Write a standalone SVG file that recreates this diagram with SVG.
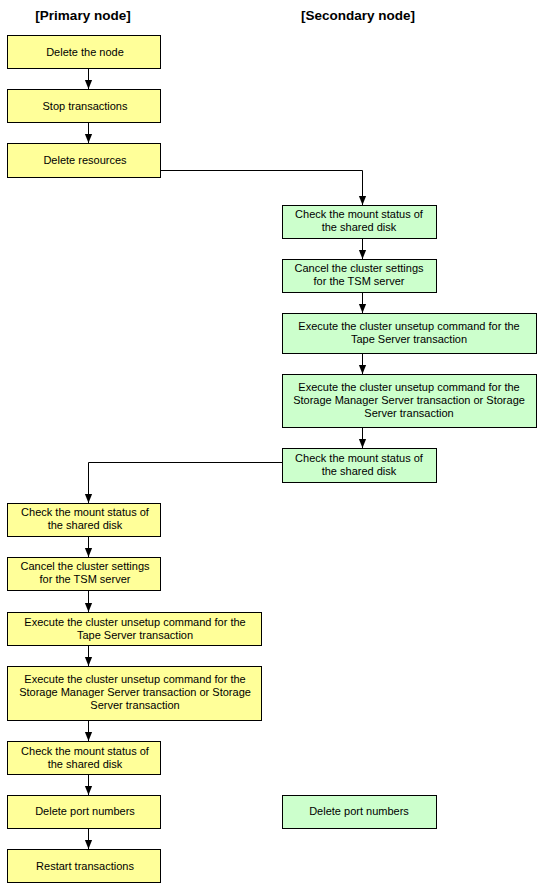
<svg xmlns="http://www.w3.org/2000/svg" width="545" height="891" viewBox="0 0 545 891">
<defs>
<style>
.y{fill:#ffff99;stroke:#000;stroke-width:1}
.g{fill:#ccffcc;stroke:#000;stroke-width:1}
text{font-family:"Liberation Sans",Arial,sans-serif;font-size:11px;fill:#000;text-anchor:middle}
.h{font-size:13.5px;font-weight:bold}
.c{fill:none;stroke:#000;stroke-width:1}
</style>
<marker id="a" viewBox="0 0 10 10" refX="10" refY="5" markerWidth="9" markerHeight="9" markerUnits="userSpaceOnUse" orient="auto">
<path d="M0,1 L10,5 L0,9 Z" fill="#000"/>
</marker>
</defs>
<rect width="545" height="891" fill="#fff"/>
<text class="h" x="83" y="20">[Primary node]</text>
<text class="h" x="358" y="20">[Secondary node]</text>

<g id="connectors">
<path class="c" d="M88.5,68 V89" marker-end="url(#a)"/>
<path class="c" d="M88.5,122 V143" marker-end="url(#a)"/>
<path class="c" d="M160,170.5 H362.5 V205" marker-end="url(#a)"/>
<path class="c" d="M362.5,238 V259" marker-end="url(#a)"/>
<path class="c" d="M362.5,292 V313" marker-end="url(#a)"/>
<path class="c" d="M362.5,353 V374" marker-end="url(#a)"/>
<path class="c" d="M362.5,427 V448" marker-end="url(#a)"/>
<path class="c" d="M282,462.5 H88.5 V503" marker-end="url(#a)"/>
<path class="c" d="M88.5,536 V557" marker-end="url(#a)"/>
<path class="c" d="M88.5,590 V612" marker-end="url(#a)"/>
<path class="c" d="M88.5,645 V666" marker-end="url(#a)"/>
<path class="c" d="M88.5,720 V741" marker-end="url(#a)"/>
<path class="c" d="M88.5,774 V795" marker-end="url(#a)"/>
<path class="c" d="M88.5,828 V849" marker-end="url(#a)"/>
</g>

<g id="p1"><rect class="y" x="7.5" y="35.5" width="153" height="33"/><text x="85" y="56">Delete the node</text></g>
<g id="p2"><rect class="y" x="7.5" y="89.5" width="153" height="33"/><text x="85" y="110">Stop transactions</text></g>
<g id="p3"><rect class="y" x="7.5" y="143.5" width="153" height="34"/><text x="85" y="164">Delete resources</text></g>

<g id="s1"><rect class="g" x="282.5" y="205.5" width="154" height="33"/><text x="359" y="218">Check the mount status of</text><text x="359" y="231">the shared disk</text></g>
<g id="s2"><rect class="g" x="282.5" y="259.5" width="154" height="33"/><text x="359" y="272">Cancel the cluster settings</text><text x="359" y="285">for the TSM server</text></g>
<g id="s3"><rect class="g" x="282.5" y="313.5" width="254" height="40"/><text x="409" y="330">Execute the cluster unsetup command for the</text><text x="409" y="343">Tape Server transaction</text></g>
<g id="s4"><rect class="g" x="282.5" y="374.5" width="254" height="53"/><text x="409" y="391">Execute the cluster unsetup command for the</text><text x="409" y="404">Storage Manager Server transaction or Storage</text><text x="409" y="417">Server transaction</text></g>
<g id="s5"><rect class="g" x="282.5" y="448.5" width="154" height="34"/><text x="359" y="462">Check the mount status of</text><text x="359" y="475">the shared disk</text></g>

<g id="p4"><rect class="y" x="7.5" y="503.5" width="153" height="33"/><text x="85" y="516">Check the mount status of</text><text x="85" y="529">the shared disk</text></g>
<g id="p5"><rect class="y" x="7.5" y="557.5" width="153" height="33"/><text x="85" y="570">Cancel the cluster settings</text><text x="85" y="583">for the TSM server</text></g>
<g id="p6"><rect class="y" x="7.5" y="612.5" width="254" height="33"/><text x="135" y="626">Execute the cluster unsetup command for the</text><text x="135" y="639">Tape Server transaction</text></g>
<g id="p7"><rect class="y" x="7.5" y="666.5" width="254" height="54"/><text x="135" y="683">Execute the cluster unsetup command for the</text><text x="135" y="696">Storage Manager Server transaction or Storage</text><text x="135" y="709">Server transaction</text></g>
<g id="p8"><rect class="y" x="7.5" y="741.5" width="153" height="33"/><text x="85" y="755">Check the mount status of</text><text x="85" y="768">the shared disk</text></g>
<g id="p9"><rect class="y" x="7.5" y="795.5" width="153" height="33"/><text x="85" y="815">Delete port numbers</text></g>
<g id="s6"><rect class="g" x="282.5" y="795.5" width="154" height="33"/><text x="359" y="815">Delete port numbers</text></g>
<g id="p10"><rect class="y" x="7.5" y="849.5" width="153" height="33"/><text x="85" y="870">Restart transactions</text></g>
</svg>
